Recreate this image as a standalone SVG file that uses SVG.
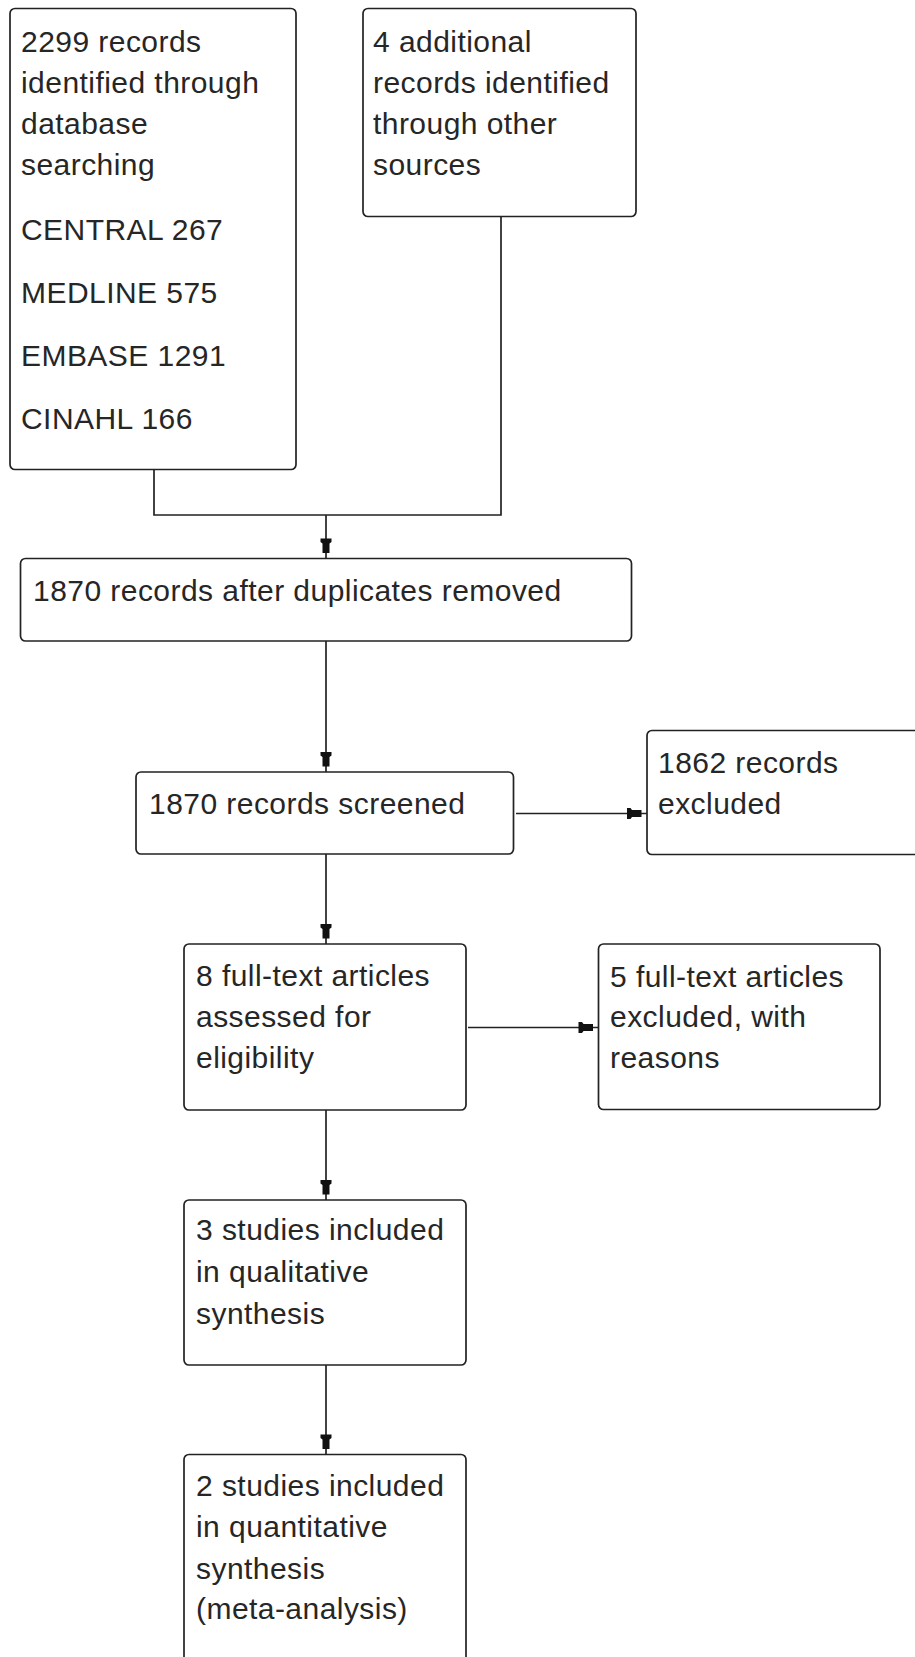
<svg xmlns="http://www.w3.org/2000/svg" width="915" height="1657" viewBox="0 0 915 1657">
<defs>
<style>
.box{fill:#ffffff;stroke:#222222;stroke-width:1.7}
.lbl{font-family:"Liberation Sans",Arial,sans-serif;font-size:30px;letter-spacing:0.45px;fill:#262626}
.conn{fill:none;stroke:#222222;stroke-width:1.7}
</style>
<marker id="arr" markerUnits="userSpaceOnUse" markerWidth="30" markerHeight="20" refX="0" refY="0" viewBox="-22 -10 30 20" orient="auto" overflow="visible">
<path d="M-20,-5.5 L-16.5,-5.5 L-15,-3.5 L-5.5,-3.5 L-5.5,3.5 L-15,3.5 L-16.5,5.5 L-20,5.5 Z" fill="#111111"/>
</marker>
</defs>
<rect width="915" height="1657" fill="#ffffff"/>
<g id="connectors">
<polyline class="conn" points="154,469.5 154,515 501,515 501,216.5"/>
<line class="conn" x1="326" y1="515" x2="326" y2="558.5" marker-end="url(#arr)"/>
<line class="conn" x1="326" y1="641" x2="326" y2="772" marker-end="url(#arr)"/>
<line class="conn" x1="516" y1="813.5" x2="647" y2="813.5" marker-end="url(#arr)"/>
<line class="conn" x1="326" y1="854" x2="326" y2="944" marker-end="url(#arr)"/>
<line class="conn" x1="468" y1="1027.5" x2="598.5" y2="1027.5" marker-end="url(#arr)"/>
<line class="conn" x1="326" y1="1110" x2="326" y2="1200" marker-end="url(#arr)"/>
<line class="conn" x1="326" y1="1365" x2="326" y2="1454.5" marker-end="url(#arr)"/>
</g>
<g id="n_db">
<rect class="box" x="10" y="8.5" width="286" height="461" rx="5"/>
<text class="lbl" x="21" y="52">2299 records</text>
<text class="lbl" x="21" y="92.5">identified through</text>
<text class="lbl" x="21" y="133.5">database</text>
<text class="lbl" x="21" y="175">searching</text>
<text class="lbl" x="21" y="239.5">CENTRAL 267</text>
<text class="lbl" x="21" y="302.5">MEDLINE 575</text>
<text class="lbl" x="21" y="366">EMBASE 1291</text>
<text class="lbl" x="21" y="428.5">CINAHL 166</text>
</g>
<g id="n_other">
<rect class="box" x="363" y="8.5" width="273" height="208" rx="5"/>
<text class="lbl" x="373" y="52">4 additional</text>
<text class="lbl" x="373" y="92.5">records identified</text>
<text class="lbl" x="373" y="133.5">through other</text>
<text class="lbl" x="373" y="175">sources</text>
</g>
<g id="n_dedup">
<rect class="box" x="20.5" y="558.5" width="611" height="82.5" rx="5"/>
<text class="lbl" x="33" y="601">1870 records after duplicates removed</text>
</g>
<g id="n_screened">
<rect class="box" x="136" y="772" width="377.5" height="82" rx="5"/>
<text class="lbl" x="149" y="814">1870 records screened</text>
</g>
<g id="n_excluded">
<rect class="box" x="647" y="730.5" width="300" height="124" rx="5"/>
<text class="lbl" x="658" y="773">1862 records</text>
<text class="lbl" x="658" y="813.5">excluded</text>
</g>
<g id="n_fulltext">
<rect class="box" x="184" y="944" width="282" height="166" rx="5"/>
<text class="lbl" x="196" y="986">8 full-text articles</text>
<text class="lbl" x="196" y="1027">assessed for</text>
<text class="lbl" x="196" y="1068">eligibility</text>
</g>
<g id="n_ftexcluded">
<rect class="box" x="598.5" y="944" width="281.5" height="165.5" rx="5"/>
<text class="lbl" x="610" y="986.5">5 full-text articles</text>
<text class="lbl" x="610" y="1027">excluded, with</text>
<text class="lbl" x="610" y="1068">reasons</text>
</g>
<g id="n_qual">
<rect class="box" x="184" y="1200" width="282" height="165" rx="5"/>
<text class="lbl" x="196" y="1240">3 studies included</text>
<text class="lbl" x="196" y="1282">in qualitative</text>
<text class="lbl" x="196" y="1323.5">synthesis</text>
</g>
<g id="n_quant">
<rect class="box" x="184" y="1454.5" width="282" height="250" rx="5"/>
<text class="lbl" x="196" y="1495.5">2 studies included</text>
<text class="lbl" x="196" y="1537">in quantitative</text>
<text class="lbl" x="196" y="1578.5">synthesis</text>
<text class="lbl" x="196" y="1619">(meta-analysis)</text>
</g>
</svg>
